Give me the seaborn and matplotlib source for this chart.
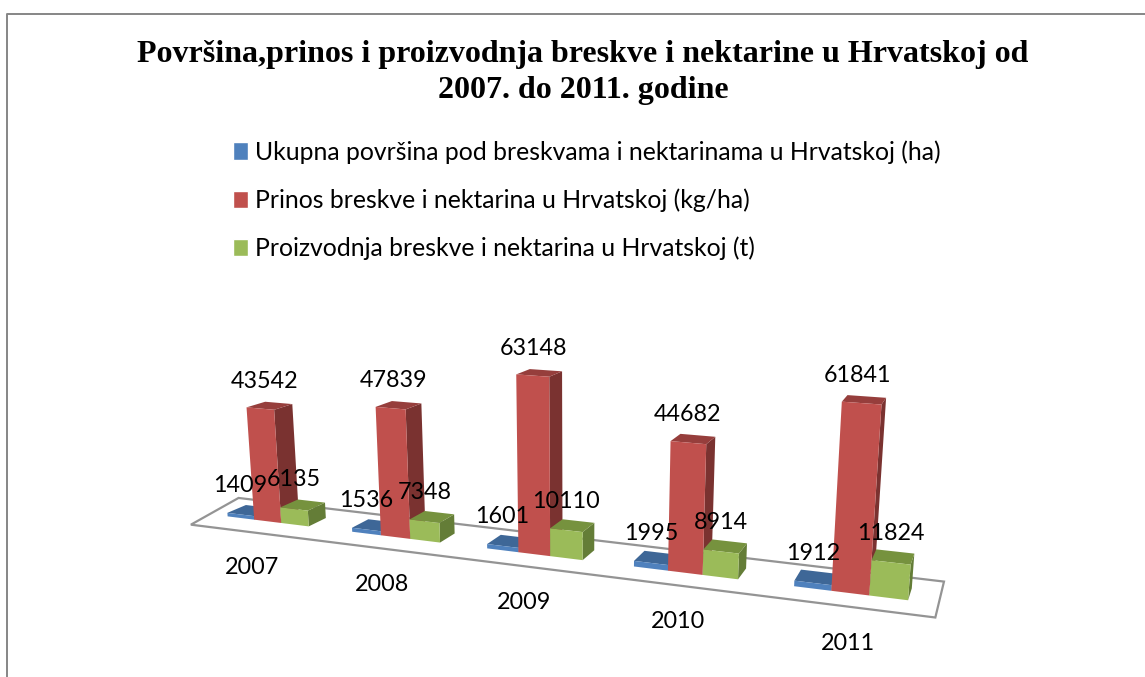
"""Peach and nectarine chart, 3D columns drawn from a flat seaborn barplot."""

import matplotlib

matplotlib.use("Agg")
import matplotlib.pyplot as plt
import numpy as np
import pandas as pd
import seaborn as sns
from matplotlib.patches import Polygon
from matplotlib.transforms import IdentityTransform, Transform

WIDTH, HEIGHT = 1145, 677

TITLE = "Površina,prinos i proizvodnja breskve i nektarine u Hrvatskoj od\n2007. do 2011. godine"
YEARS = ["2007", "2008", "2009", "2010", "2011"]
SERIES = [
    "Ukupna površina pod breskvama i nektarinama u Hrvatskoj (ha)",
    "Prinos breskve i nektarina u Hrvatskoj (kg/ha)",
    "Proizvodnja breskve i nektarina u Hrvatskoj (t)",
]
AREA = [1409, 1536, 1601, 1995, 1912]
YIELD = [43542, 47839, 63148, 44682, 61841]
OUTPUT = [6135, 7348, 10110, 8914, 11824]

FRONT = ["#4F81BD", "#C0504D", "#9BBB59"]
TOP = ["#3E6797", "#963E3C", "#76923E"]
SIDE = ["#345682", "#7A3230", "#647D37"]

# camera: (category position, value, depth) -> picture pixel, fitted at run time
CAMERA_WORLD = [
    (-0.11, 0, 0), (0.11, 0, 0), (0.33, 0, 0), (-0.11, 43542, 0), (0.11, 43542, 0),
    (0.89, 0, 0), (1.11, 0, 0), (0.89, 47839, 0), (1.11, 47839, 0),
    (1.89, 0, 0), (2.11, 0, 0), (1.89, 63148, 0), (2.11, 63148, 0),
    (2.89, 0, 0), (3.11, 0, 0), (2.89, 44682, 0), (3.11, 44682, 0),
    (3.89, 0, 0), (4.11, 0, 0), (3.89, 61841, 0), (4.11, 61841, 0),
    (0.33, 0, 1), (0.33, 6135, 1), (0.11, 43542, 1), (1.11, 47839, 1),
    (2.11, 63148, 1), (3.89, 61841, 1), (4.11, 61841, 1),
]
CAMERA_PIXEL = [
    (253, 519), (281, 522), (309, 526), (246, 408), (275, 410),
    (381, 535), (410, 538), (376, 407), (406, 409),
    (519, 552), (550, 556), (516, 375), (549, 377),
    (668, 571), (703, 575), (671, 442), (706, 444),
    (831, 591), (869, 596), (842, 403), (882, 404),
    (326, 520), (326, 503), (292, 404), (421, 403),
    (562, 371), (847, 394), (886, 397),
]


def fit_camera(world, pixel):
    rows, rhs = [], []
    for (x, v, z), (px, py) in zip(world, pixel):
        v = v / 10000
        rows.append([x, v, z, 1, 0, 0, 0, 0, -px * x, -px * v, -px * z])
        rows.append([0, 0, 0, 0, x, v, z, 1, -py * x, -py * v, -py * z])
        rhs += [px, py]
    coef = np.linalg.lstsq(np.array(rows, float), np.array(rhs, float), rcond=None)[0]
    return np.append(coef, 1).reshape(3, 4)


CAMERA = fit_camera(CAMERA_WORLD, CAMERA_PIXEL)


def project(x, v, z=0.0):
    """Return display coordinates (origin bottom left) of a point in the scene."""
    x, v, z = np.broadcast_arrays(x, v, z)
    pts = np.stack([x, v / 10000, z, np.ones_like(x, dtype=float)], axis=-1)
    out = pts @ CAMERA.T
    return np.stack([out[..., 0] / out[..., 2], HEIGHT - out[..., 1] / out[..., 2]], axis=-1)


class FrontFace(Transform):
    """Maps the barplot's data coordinates onto the front plane of the columns."""

    input_dims = output_dims = 2
    is_affine = False

    def transform_non_affine(self, values):
        values = np.asarray(values, float)
        return project(values[:, 0], values[:, 1])


df = pd.DataFrame({"year": YEARS, SERIES[0]: AREA, SERIES[1]: YIELD, SERIES[2]: OUTPUT})
df = df.melt(id_vars="year", var_name="series", value_name="value")

sns.set_theme(style="white")
plt.rcParams["font.family"] = ["Lato", "DejaVu Sans"]

fig = plt.figure(figsize=(WIDTH / 100, HEIGHT / 100), dpi=100)
ax = fig.add_axes([0, 0, 1, 1])
sns.barplot(
    data=df,
    x="year",
    y="value",
    hue="series",
    hue_order=SERIES,
    order=YEARS,
    palette=FRONT,
    width=0.66,
    saturation=1,
    errorbar=None,
    ax=ax,
)
ax.set_axis_off()
sns.move_legend(
    ax,
    "upper left",
    bbox_to_anchor=(233 / WIDTH, 1 - 140 / HEIGHT),
    title=None,
    frameon=False,
    fontsize=17.8,
    labelcolor="black",
    labelspacing=1.0,
    handlelength=0.62,
    handleheight=0.7,
    handletextpad=0.27,
    borderaxespad=0,
    borderpad=0,
)

pixels = IdentityTransform()

# floor plate
floor = project([-0.44, 4.5, 4.5, -0.55], 0, [-1.2, -1.05, 1.9, 2.0])
ax.add_patch(Polygon(floor, closed=True, facecolor="white", edgecolor="#949494",
                     linewidth=1.6, transform=pixels, zorder=1, clip_on=False))

for container, top, side in zip(ax.containers, TOP, SIDE):
    for bar in container:
        x0, x1 = bar.get_x(), bar.get_x() + bar.get_width()
        v = bar.get_height()
        order = 2 + x0
        bar.set_transform(FrontFace())
        bar.set_clip_on(False)
        bar.set_zorder(order + 0.02)
        bar.set_edgecolor("none")
        top_face = project([x0, x1, x1, x0], v, [0, 0, 1, 1])
        side_face = project([x1, x1, x1, x1], [0, v, v, 0], [0, 0, 1, 1])
        ax.add_patch(Polygon(side_face, facecolor=side, edgecolor="none",
                             transform=pixels, zorder=order, clip_on=False))
        ax.add_patch(Polygon(top_face, facecolor=top, edgecolor="none",
                             transform=pixels, zorder=order + 0.01, clip_on=False))

# value labels and year labels
label_font = dict(fontsize=16.8, color="black", ha="center", va="center",
                  transform=pixels, zorder=20, clip_on=False)
for i, year in enumerate(YEARS):
    px, py = project(i - 0.22, AREA[i])
    ax.text(px, py + 29, str(AREA[i]), **label_font)
    px, py = project(i, YIELD[i], 0.6)
    ax.text(px - 7, py + 24, str(YIELD[i]), **label_font)
    px, py = project(i + 0.22, OUTPUT[i])
    ax.text(px, py + 29, str(OUTPUT[i]), **label_font)
    px, py = project(i, 0, -1.0)
    ax.text(px + 3, py - 38, year, **label_font)

fig.text(583 / WIDTH, 1 - 72.5 / HEIGHT, TITLE, family="Liberation Serif", weight="bold",
         fontsize=23, ha="center", va="center", linespacing=1.32, color="black")

# chart frame
fig.add_artist(plt.Line2D([6.5 / WIDTH, 6.5 / WIDTH, 1], [0, 1 - 13.5 / HEIGHT, 1 - 13.5 / HEIGHT],
                          color="#868686", linewidth=1.4))

fig.savefig("out.png", dpi=100)
plt.close(fig)
